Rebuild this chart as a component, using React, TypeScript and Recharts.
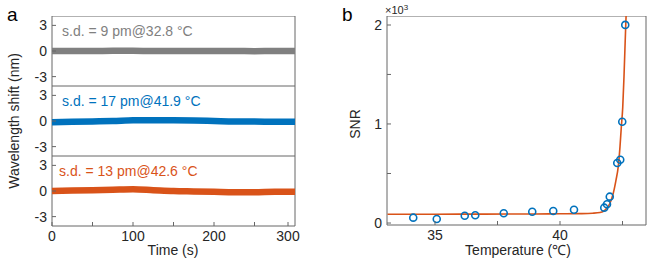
import React from 'react';
import { LineChart, Line, XAxis, YAxis, ComposedChart, Scatter, ReferenceArea } from 'recharts';

// panel a: wavelength shift vs time, three temperatures
const timeSec = [0, 25, 50, 75, 100, 125, 150, 175, 200, 225, 250, 275, 300];
const shiftAt32 = [0, 0, 0, 0.02, 0.02, 0, 0, 0, 0, 0, -0.02, 0, 0];
const shiftAt41 = [-0.15, -0.1, -0.05, 0, 0.08, 0.1, 0.08, 0.05, 0, -0.05, -0.05, -0.1, -0.1];
const shiftAt42 = [0, 0.05, 0.1, 0.15, 0.2, 0.1, 0, -0.05, -0.1, -0.15, -0.15, -0.1, -0.1];
const timeTicks = [0, 50, 100, 150, 200, 250, 300];
const shiftTicks = [-3, -1.5, 0, 1.5, 3];

// panel b: SNR vs temperature
const snrTemp = [34.13, 35.07, 36.19, 36.61, 37.75, 38.89, 39.73, 40.56, 41.77, 41.88, 41.99, 42.29, 42.41, 42.49, 42.61];
const snrValue = [54, 40, 74, 78, 98, 114, 121, 134, 155, 189, 266, 606, 639, 1023, 2000];
const fitTemp = [33.1, 35, 37, 39, 40, 40.8, 41.3, 41.6, 41.8, 42.0, 42.13, 42.24, 42.33, 42.4, 42.45, 42.51, 42.56, 42.63, 42.66];
const fitValue = [88, 89, 90, 91, 93, 95, 99, 106, 131, 199, 300, 434, 569, 771, 960, 1170, 1480, 2000, 2200];
const tempTicks = [35, 37.5, 40, 42.5];
const snrTicks = [0, 500, 1000, 1500, 2000];

const AXIS = '#666666';
const TEXT = '#262626';
const FONT = '"Liberation Sans", Arial, sans-serif';
const FS = 14;

// inward tick marks, label drawn only when fmt gives text
const BottomTick = (props: any) => {
  const { x, y, payload, fmt } = props;
  const label = fmt ? fmt(payload.value) : '';
  return (
    <g>
      <line x1={x} x2={x} y1={y} y2={y - 4} stroke={AXIS} />
      {label !== '' && (
        <text x={x} y={y + 10} textAnchor="middle" dominantBaseline="central" fontSize={FS} fill={TEXT} fontFamily={FONT}>
          {label}
        </text>
      )}
    </g>
  );
};

const LeftTick = (props: any) => {
  const { x, y, payload, fmt } = props;
  const label = fmt(payload.value);
  return (
    <g>
      <line x1={x} x2={x + 4} y1={y} y2={y} stroke={AXIS} />
      {label !== '' && (
        <text x={x - 5} y={y} textAnchor="end" dominantBaseline="central" fontSize={FS} fill={TEXT} fontFamily={FONT}>
          {label}
        </text>
      )}
    </g>
  );
};

const timeFmt = (v: number) => (v % 100 === 0 ? String(v) : '');
const shiftFmt = (v: number) => (Number.isInteger(v) ? String(v) : '');
const tempFmt = (v: number) => (Number.isInteger(v) ? String(v) : '');
const snrFmt = (v: number) => (v % 1000 === 0 ? String(v / 1000) : '');

type SubProps = { values: number[]; color: string; top: number; last?: boolean };

const SubPlot: React.FC<SubProps> = ({ values, color, top, last }) => {
  const data = timeSec.map((t, i) => ({ t, v: values[i] }));
  const xh = last ? 30 : 0;
  return (
    <div style={{ position: 'absolute', left: 0, top }}>
      <LineChart width={300} height={70 + xh} data={data} margin={{ top: 0, right: 5, bottom: 0, left: 0 }}>
        <XAxis
          dataKey="t"
          type="number"
          domain={[0, 300]}
          ticks={timeTicks}
          height={xh}
          axisLine={false}
          tickLine={false}
          tickSize={0}
          tickMargin={0}
          tick={<BottomTick fmt={last ? timeFmt : undefined} />}
        />
        <YAxis
          type="number"
          domain={[-4.1, 4.1]}
          ticks={shiftTicks}
          width={52}
          axisLine={false}
          tickLine={false}
          tickSize={0}
          tickMargin={0}
          tick={<LeftTick fmt={shiftFmt} />}
        />
        <ReferenceArea x1={0} x2={300} y1={-4.1} y2={4.1} fill="none" fillOpacity={0} stroke={AXIS} strokeWidth={1} />
        <Line dataKey="v" stroke={color} strokeWidth={6.5} dot={false} type="monotone" isAnimationActive={false} />
      </LineChart>
    </div>
  );
};

const App: React.FC = () => {
  const scatterData = snrTemp.map((x, i) => ({ x, y: snrValue[i] }));
  const fitData = fitTemp.map((x, i) => ({ x, y: fitValue[i] }));

  return (
    <div style={{ position: 'absolute', left: 0, top: 0, width: 654, height: 263, background: '#fff', fontFamily: FONT }}>
      <SubPlot values={shiftAt32} color="#808080" top={16} />
      <SubPlot values={shiftAt41} color="#0072BD" top={86} />
      <SubPlot values={shiftAt42} color="#D95319" top={156} last />

      <div style={{ position: 'absolute', left: 320, top: 16 }}>
        <ComposedChart width={334} height={239} margin={{ top: 0, right: 8, bottom: 0, left: 0 }}>
          <XAxis
            dataKey="x"
            type="number"
            domain={[33.08, 43.44]}
            allowDataOverflow
            ticks={tempTicks}
            height={30}
            axisLine={false}
            tickLine={false}
            tickSize={0}
            tickMargin={0}
            tick={<BottomTick fmt={tempFmt} />}
          />
          <YAxis
            dataKey="y"
            type="number"
            domain={[-20, 2090]}
            allowDataOverflow
            ticks={snrTicks}
            width={67}
            axisLine={false}
            tickLine={false}
            tickSize={0}
            tickMargin={0}
            tick={<LeftTick fmt={snrFmt} />}
          />
          <ReferenceArea x1={33.08} x2={43.44} y1={-20} y2={2090} fill="none" fillOpacity={0} stroke={AXIS} strokeWidth={1} />
          <Line data={fitData} dataKey="y" stroke="#D95319" strokeWidth={1.6} dot={false} type="monotone" isAnimationActive={false} />
          <Scatter
            data={scatterData}
            dataKey="y"
            isAnimationActive={false}
            shape={(p: any) => <circle cx={p.cx} cy={p.cy} r={3.5} fill="none" stroke="#0072BD" strokeWidth={1.6} />}
          />
        </ComposedChart>
      </div>

      <svg width={654} height={263} style={{ position: 'absolute', left: 0, top: 0, pointerEvents: 'none' }} fontFamily={FONT}>
        <text x={7} y={21} fontSize={19} fill="#000">a</text>
        <text x={342} y={21} fontSize={19} fill="#000">b</text>
        <text x={14} y={121} fontSize={FS} fill={TEXT} textAnchor="middle" dominantBaseline="central" transform="rotate(-90 14 121)">
          Wavelength shift (nm)
        </text>
        <text x={173} y={250} fontSize={FS} fill={TEXT} textAnchor="middle" dominantBaseline="central">Time (s)</text>
        <text x={355} y={124} fontSize={FS} fill={TEXT} textAnchor="middle" dominantBaseline="central" transform="rotate(-90 355 124)">
          SNR
        </text>
        <text x={518} y={250} fontSize={FS} fill={TEXT} textAnchor="middle" dominantBaseline="central">Temperature (℃)</text>
        <text x={385} y={14} fontSize={11} fill={TEXT}>
          ×10<tspan fontSize={8} dy={-4}>3</tspan>
        </text>
        <text x={62} y={31} fontSize={FS} fill="#808080" dominantBaseline="central">s.d. = 9 pm@32.8 °C</text>
        <text x={62} y={101} fontSize={FS} fill="#0072BD" dominantBaseline="central">s.d. = 17 pm@41.9 °C</text>
        <text x={59} y={171} fontSize={FS} fill="#D95319" dominantBaseline="central">s.d. = 13 pm@42.6 °C</text>
      </svg>
    </div>
  );
};

export default App;
